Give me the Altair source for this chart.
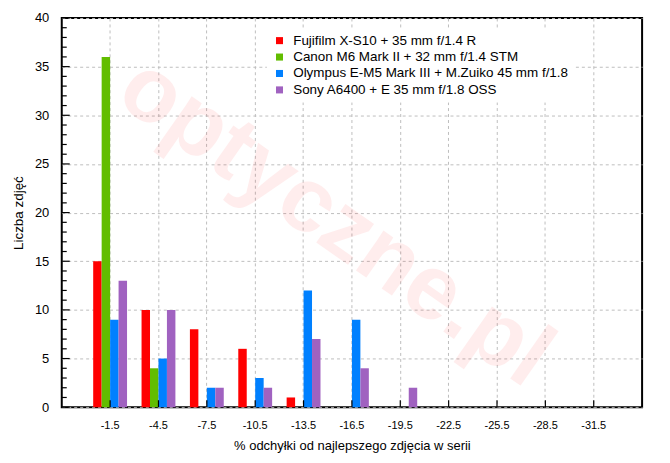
import altair as alt
import pandas as pd

categories = ["-1.5", "-4.5", "-7.5", "-10.5", "-13.5", "-16.5",
              "-19.5", "-22.5", "-25.5", "-28.5", "-31.5"]
series = ["Fujifilm X-S10 + 35 mm f/1.4 R",
          "Canon M6 Mark II + 32 mm f/1.4 STM",
          "Olympus E-M5 Mark III + M.Zuiko 45 mm f/1.8",
          "Sony A6400 + E 35 mm f/1.8 OSS"]
fujifilm = [15, 10, 8, 6, 1, 0, 0, 0, 0, 0, 0]
canon = [36, 4, 0, 0, 0, 0, 0, 0, 0, 0, 0]
olympus = [9, 5, 2, 3, 12, 9, 0, 0, 0, 0, 0]
sony = [13, 10, 2, 2, 7, 4, 2, 0, 0, 0, 0]
colors = ["#ff0000", "#62bd00", "#0080ff", "#a062c0"]
y_major = [0, 5, 10, 15, 20, 25, 30, 35, 40]
y_minor = [v for v in range(0, 41) if v % 5 != 0]

FONT = "Liberation Sans"
W, H = 583, 391

rows = []
for s, vals in zip(series, [fujifilm, canon, olympus, sony]):
    for c, v in zip(categories, vals):
        rows.append({"cat": c, "series": s, "count": v})
df = pd.DataFrame(rows)

xscale = alt.Scale(domain=categories, paddingInner=0.3, paddingOuter=0.65)
yscale = alt.Scale(domain=[0, 40], nice=False)

x_axis = alt.Axis(title="% odchyłki od najlepszego zdjęcia w serii",
                  labelAngle=0, tickSize=0, domain=False, grid=True,
                  gridDash=[3, 3], gridColor="#bdbdbd", bandPosition=0.5,
                  labelPadding=12, titlePadding=9,
                  labelFont=FONT, titleFont=FONT, labelFontSize=11,
                  titleFontSize=13, titleFontWeight="normal",
                  labelColor="#000", titleColor="#000")
y_axis = alt.Axis(title="Liczba zdjęć", values=y_major, tickSize=0,
                  domain=False, grid=True, gridDash=[3, 3],
                  gridColor="#bdbdbd", labelPadding=13, titlePadding=9,
                  labelFont=FONT, titleFont=FONT, labelFontSize=13,
                  titleFontSize=13.5, titleFontWeight="normal",
                  labelColor="#000", titleColor="#000")

watermark = alt.Chart(pd.DataFrame({"t": ["optyczne.pl"]})).mark_text(
    font=FONT, fontSize=92, fontWeight="bold", angle=35,
    color="#ff0000", opacity=0.065, align="center", baseline="middle"
).encode(text="t:N", x=alt.value(275), y=alt.value(205))

bars = alt.Chart(df).mark_bar().encode(
    x=alt.X("cat:N", scale=xscale, sort=categories, axis=x_axis),
    xOffset=alt.XOffset("series:N",
                        scale=alt.Scale(domain=series, paddingInner=0, paddingOuter=0)),
    y=alt.Y("count:Q", scale=yscale, axis=y_axis),
    color=alt.Color("series:N", scale=alt.Scale(domain=series, range=colors),
                    legend=alt.Legend(title=None, orient="none", legendX=206,
                                      legendY=10, fillColor="white", padding=6,
                                      symbolType="square", symbolSize=50,
                                      symbolStrokeWidth=0, labelFont=FONT,
                                      labelFontSize=13.5, labelColor="#000",
                                      rowPadding=1.5, labelOffset=7,
                                      labelLimit=400)),
)

ymaj = alt.Chart(pd.DataFrame({"count": y_major})).mark_rule(
    color="#000", strokeWidth=1.2).encode(
    y=alt.Y("count:Q", scale=yscale, axis=y_axis), x=alt.value(0), x2=alt.value(8))
ymin = alt.Chart(pd.DataFrame({"count": y_minor})).mark_rule(
    color="#000", strokeWidth=1.2).encode(
    y=alt.Y("count:Q", scale=yscale, axis=y_axis), x=alt.value(0), x2=alt.value(5))
xt = alt.Chart(pd.DataFrame({"cat": categories})).mark_rule(
    color="#000", strokeWidth=1.2).encode(
    x=alt.X("cat:N", scale=xscale, sort=categories, axis=x_axis),
    y=alt.value(H), y2=alt.value(H - 7))

chart = alt.layer(watermark, bars, ymaj, ymin, xt).properties(
    width=W, height=H,
    background="white",
    autosize=alt.AutoSizeParams(type="none"),
    padding={"left": 54, "top": 9, "right": 20, "bottom": 50},
).configure_view(stroke="#000", strokeWidth=2)

chart.save("out.html", embed_options={"renderer": "svg", "actions": False})
